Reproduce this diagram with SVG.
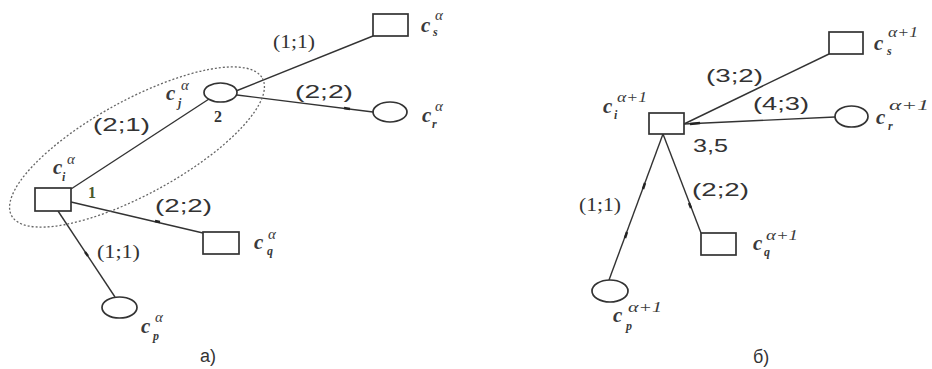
<svg xmlns="http://www.w3.org/2000/svg" width="932" height="369" viewBox="0 0 932 369">
<style>
.bg{fill:#ffffff}
.node{fill:#ffffff;stroke:#333;stroke-width:1.7}
.edge{stroke:#333;stroke-width:1.4;fill:none}
.tick{stroke:#222;stroke-width:2.4;fill:none}
.group{fill:none;stroke:#666;stroke-width:1.3;stroke-dasharray:2 2}
.c{font-family:"Liberation Serif",serif;font-style:italic;font-weight:bold;font-size:21px;fill:#3a3a3a}
.sup{font-family:"Liberation Serif",serif;font-style:italic;font-size:15px;fill:#3a3a3a}
.sub{font-family:"Liberation Serif",serif;font-style:italic;font-weight:bold;font-size:12px;fill:#3a3a3a}
.lbl{font-family:"Liberation Sans",Arial,sans-serif;font-size:18px;fill:#333}
.lbls{font-family:"Liberation Serif",serif;font-size:18px;fill:#333}
.num{font-family:"Liberation Serif",serif;font-weight:bold;font-size:16px;fill:#333}
.cap{font-family:"Liberation Sans",Arial,sans-serif;font-size:18px;fill:#333}
</style>
<rect class="bg" x="0" y="0" width="932" height="369"/>
<g id="connectors">
<line class="edge" x1="71" y1="189" x2="209" y2="99"/>
<line class="edge" x1="236" y1="91" x2="373" y2="36"/>
<line class="edge" x1="237" y1="95" x2="373" y2="112"/>
<line class="edge" x1="71" y1="202" x2="203" y2="233"/>
<line class="edge" x1="58" y1="211" x2="115" y2="297"/>
<line class="tick" x1="344" y1="108" x2="350" y2="109"/>
<line class="tick" x1="155" y1="221" x2="160" y2="222"/>
<line class="tick" x1="85" y1="252" x2="88" y2="256"/>
<line class="edge" x1="684" y1="124" x2="829" y2="54"/>
<line class="edge" x1="684" y1="124" x2="835" y2="117"/>
<line class="edge" x1="663" y1="134" x2="609" y2="280"/>
<line class="edge" x1="663" y1="134" x2="701" y2="233"/>
<line class="tick" x1="627" y1="232" x2="625" y2="238"/>
<line class="tick" x1="645" y1="183" x2="643" y2="189"/>
<line class="tick" x1="689" y1="203" x2="691" y2="208"/>
<line class="tick" x1="690" y1="124" x2="700" y2="123"/>
</g>
<g id="group-ellipse">
<ellipse class="group" cx="137" cy="147" rx="143" ry="47" transform="rotate(-28.7 137 147)"/>
</g>
<g id="a-ci">
<rect class="node" x="35" y="188" width="36" height="23"/>
<text class="c" x="53" y="174">c</text><text class="sup" x="67" y="164">α</text><text class="sub" x="62" y="181">i</text>
<text class="num" x="88" y="198" style="fill:#4a5a2a">1</text>
</g>
<g id="a-cj">
<ellipse class="node" cx="220.5" cy="92.5" rx="16.5" ry="9.5"/>
<text class="c" x="166" y="100">c</text><text class="sup" x="181" y="90">α</text><text class="sub" x="178" y="107">j</text>
<text class="num" x="214" y="122">2</text>
</g>
<g id="a-cs">
<rect class="node" x="373" y="14" width="35" height="22"/>
<text class="c" x="421" y="32">c</text><text class="sup" x="435" y="20">α</text><text class="sub" x="433" y="36">s</text>
</g>
<g id="a-cr">
<ellipse class="node" cx="390" cy="112" rx="17" ry="10"/>
<text class="c" x="422" y="122">c</text><text class="sup" x="435" y="111">α</text><text class="sub" x="432" y="128">r</text>
</g>
<g id="a-cq">
<rect class="node" x="203" y="232" width="36" height="22"/>
<text class="c" x="254" y="249">c</text><text class="sup" x="268" y="239">α</text><text class="sub" x="267" y="255">q</text>
</g>
<g id="a-cp">
<ellipse class="node" cx="119.5" cy="307.5" rx="17.5" ry="10.5"/>
<text class="c" x="141" y="333">c</text><text class="sup" x="155" y="322">α</text><text class="sub" x="153" y="340">p</text>
</g>
<g id="a-labels">
<text class="lbls" x="273" y="48" textLength="42" lengthAdjust="spacingAndGlyphs">(1;1)</text>
<text class="lbl" x="295" y="98" textLength="58" lengthAdjust="spacingAndGlyphs">(2;2)</text>
<text class="lbl" x="93" y="131" textLength="57" lengthAdjust="spacingAndGlyphs">(2;1)</text>
<text class="lbl" x="155" y="212" textLength="57" lengthAdjust="spacingAndGlyphs">(2;2)</text>
<text class="lbls" x="97" y="258" textLength="43" lengthAdjust="spacingAndGlyphs">(1;1)</text>
<text class="cap" x="200" y="362">a)</text>
</g>
<g id="b-ci">
<rect class="node" x="649" y="113" width="35" height="21"/>
<text class="c" x="603" y="113">c</text><text class="sup" x="617" y="102" textLength="30" lengthAdjust="spacingAndGlyphs">α+1</text><text class="sub" x="614" y="119">i</text>
</g>
<g id="b-cs">
<rect class="node" x="829" y="32" width="34" height="22"/>
<text class="c" x="874" y="50">c</text><text class="sup" x="888" y="37" textLength="30" lengthAdjust="spacingAndGlyphs">α+1</text><text class="sub" x="887" y="55">s</text>
</g>
<g id="b-cr">
<ellipse class="node" cx="851.5" cy="116.5" rx="16.5" ry="10.5"/>
<text class="c" x="876" y="124">c</text><text class="sup" x="889" y="110" textLength="40" lengthAdjust="spacingAndGlyphs">α+1</text><text class="sub" x="888" y="130">r</text>
</g>
<g id="b-cq">
<rect class="node" x="701" y="233" width="35" height="22"/>
<text class="c" x="753" y="250">c</text><text class="sup" x="766" y="240" textLength="32" lengthAdjust="spacingAndGlyphs">α+1</text><text class="sub" x="764" y="256">q</text>
</g>
<g id="b-cp">
<ellipse class="node" cx="610" cy="291" rx="18" ry="11"/>
<text class="c" x="613" y="322">c</text><text class="sup" x="628" y="312" textLength="34" lengthAdjust="spacingAndGlyphs">α+1</text><text class="sub" x="626" y="330">p</text>
</g>
<g id="b-labels">
<text class="lbl" x="706" y="82" textLength="57" lengthAdjust="spacingAndGlyphs">(3;2)</text>
<text class="lbl" x="753" y="110" textLength="56" lengthAdjust="spacingAndGlyphs">(4;3)</text>
<text class="lbl" x="693" y="152" textLength="35" lengthAdjust="spacingAndGlyphs">3,5</text>
<text class="lbl" x="692" y="196" textLength="57" lengthAdjust="spacingAndGlyphs">(2;2)</text>
<text class="lbls" x="579" y="211" textLength="42" lengthAdjust="spacingAndGlyphs">(1;1)</text>
<text class="cap" x="753" y="363">б)</text>
</g>
</svg>
